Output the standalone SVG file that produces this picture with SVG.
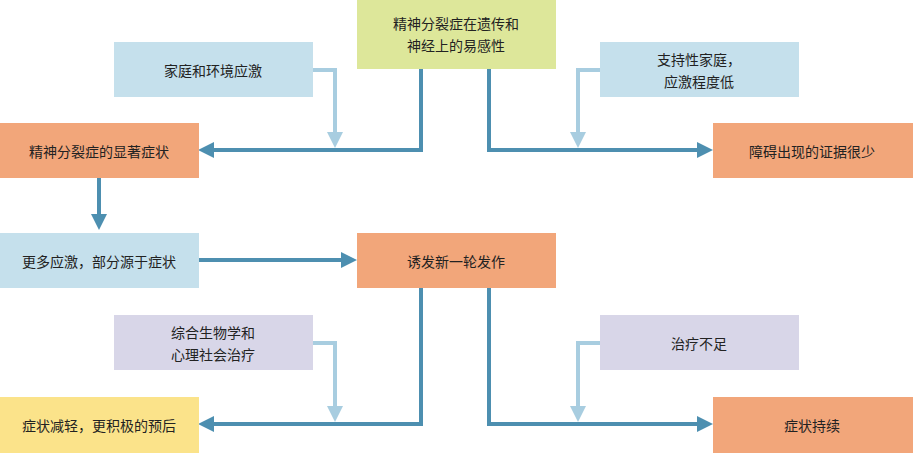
<svg xmlns="http://www.w3.org/2000/svg" width="913" height="453" viewBox="0 0 913 453">
<style>
text{font-family:"Noto Sans CJK SC","Liberation Serif",serif;font-size:14px;fill:#222;text-anchor:middle;dominant-baseline:central}
.d{fill:none;stroke:#4d8fb0;stroke-width:4}
.l{fill:none;stroke:#a8cde0;stroke-width:4}
.or{fill:#f2a67a}.bl{fill:#c5e0ec}.gr{fill:#dde79a}.lv{fill:#d8d6e8}.ye{fill:#fbe38a}
</style>
<defs>
<marker id="ad" markerWidth="4" markerHeight="4" refX="2" refY="2" orient="auto" markerUnits="strokeWidth"><path d="M0,0L4,2L0,4z" fill="#4d8fb0"/></marker>
<marker id="al" markerWidth="4" markerHeight="4" refX="2" refY="2" orient="auto" markerUnits="strokeWidth"><path d="M0,0L4,2L0,4z" fill="#a8cde0"/></marker>
</defs>
<rect width="913" height="453" fill="#fff"/>
<g id="connectors">
<path class="d" d="M421,69V150H206" marker-end="url(#ad)"/>
<path class="d" d="M489,69V150H705" marker-end="url(#ad)"/>
<path class="l" d="M313,70H335V140" marker-end="url(#al)"/>
<path class="l" d="M600,70H578V140" marker-end="url(#al)"/>
<path class="d" d="M99,178V222" marker-end="url(#ad)"/>
<path class="d" d="M199,260H349" marker-end="url(#ad)"/>
<path class="d" d="M421,288V424H206" marker-end="url(#ad)"/>
<path class="d" d="M489,288V424H705" marker-end="url(#ad)"/>
<path class="l" d="M313,343H335V414" marker-end="url(#al)"/>
<path class="l" d="M600,343H578V414" marker-end="url(#al)"/>
</g>
<g id="n1"><rect class="gr" x="357" y="0" width="199" height="69"/><text x="456" y="23">精神分裂症在遗传和</text><text x="456" y="45">神经上的易感性</text></g>
<g id="n2"><rect class="bl" x="114" y="42" width="199" height="55"/><text x="213" y="70">家庭和环境应激</text></g>
<g id="n3"><rect class="bl" x="600" y="42" width="199" height="55"/><text x="699" y="59">支持性家庭，</text><text x="699" y="81">应激程度低</text></g>
<g id="n4"><rect class="or" x="0" y="123" width="199" height="55"/><text x="99" y="151">精神分裂症的显著症状</text></g>
<g id="n5"><rect class="or" x="713" y="123" width="200" height="55"/><text x="812" y="151">障碍出现的证据很少</text></g>
<g id="n6"><rect class="bl" x="0" y="233" width="199" height="55"/><text x="99" y="261">更多应激，部分源于症状</text></g>
<g id="n7"><rect class="or" x="357" y="233" width="199" height="55"/><text x="456" y="261">诱发新一轮发作</text></g>
<g id="n8"><rect class="lv" x="114" y="315" width="199" height="55"/><text x="213" y="332">综合生物学和</text><text x="213" y="354">心理社会治疗</text></g>
<g id="n9"><rect class="lv" x="600" y="315" width="199" height="55"/><text x="699" y="343">治疗不足</text></g>
<g id="n10"><rect class="ye" x="0" y="397" width="199" height="56"/><text x="99" y="425">症状减轻，更积极的预后</text></g>
<g id="n11"><rect class="or" x="713" y="397" width="200" height="56"/><text x="812" y="425">症状持续</text></g>
</svg>
